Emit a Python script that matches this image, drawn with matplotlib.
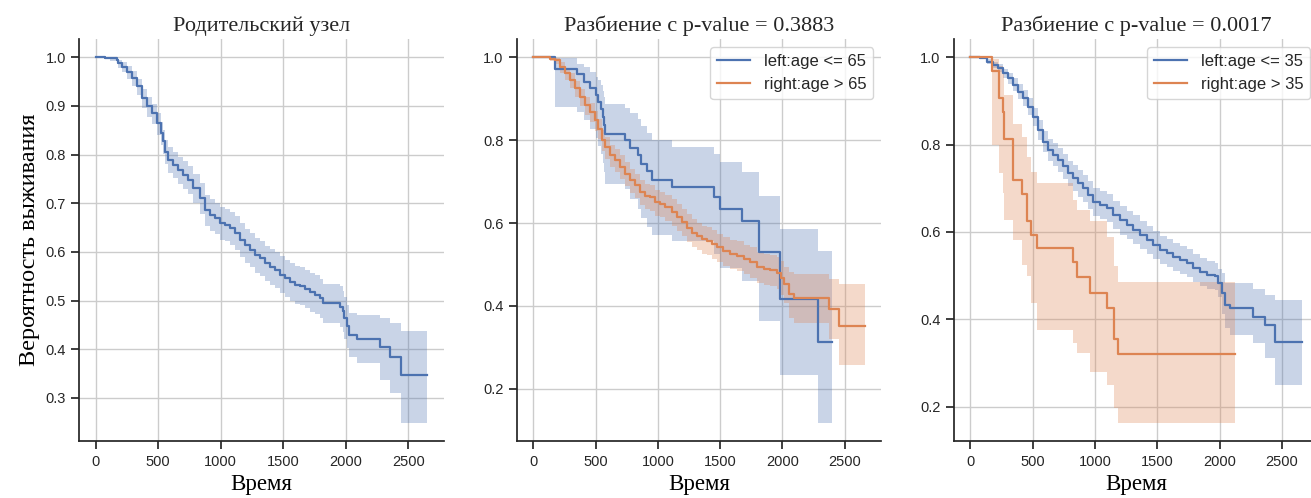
import numpy as np
import matplotlib
matplotlib.use("Agg")
from matplotlib import pyplot as plt

# --- данные (кривые Каплана-Мейера) ---
# панель 1: родительский узел
t_all = [0, 74, 114, 168, 181, 208, 248, 288, 328, 368, 408, 448, 488, 522, 541, 554, 581, 621,
         661, 701, 741, 781, 834, 874, 914, 954, 994, 1034, 1074, 1114, 1154, 1194, 1234, 1274,
         1314, 1354, 1394, 1434, 1474, 1514, 1554, 1594, 1634, 1674, 1714, 1754, 1794, 1821, 1954,
         1976, 1989, 2008, 2029, 2088, 2274, 2354, 2442, 2648]
s_all = [1.0, 0.999, 0.998, 0.994, 0.988, 0.981, 0.970, 0.957, 0.940, 0.916, 0.899, 0.885, 0.864,
         0.845, 0.827, 0.806, 0.789, 0.779, 0.769, 0.758, 0.748, 0.731, 0.710, 0.686, 0.676, 0.669,
         0.659, 0.656, 0.649, 0.639, 0.625, 0.614, 0.604, 0.594, 0.587, 0.577, 0.570, 0.563, 0.553,
         0.546, 0.539, 0.532, 0.529, 0.524, 0.517, 0.512, 0.505, 0.495, 0.487, 0.478, 0.464, 0.447,
         0.430, 0.421, 0.405, 0.383, 0.346, 0.346]
lo_all = [1.0, 0.996, 0.993, 0.986, 0.979, 0.970, 0.956, 0.941, 0.922, 0.896, 0.878, 0.863, 0.840,
          0.820, 0.801, 0.780, 0.762, 0.751, 0.740, 0.729, 0.718, 0.700, 0.678, 0.654, 0.643, 0.636,
          0.625, 0.622, 0.614, 0.604, 0.590, 0.578, 0.568, 0.557, 0.550, 0.540, 0.532, 0.525, 0.515,
          0.507, 0.500, 0.493, 0.490, 0.484, 0.477, 0.472, 0.464, 0.454, 0.446, 0.436, 0.421, 0.402,
          0.385, 0.372, 0.337, 0.310, 0.248, 0.248]
hi_all = [1.0, 1.0, 1.0, 0.999, 0.995, 0.990, 0.982, 0.971, 0.956, 0.934, 0.918, 0.905, 0.886,
          0.868, 0.851, 0.831, 0.815, 0.806, 0.796, 0.786, 0.777, 0.761, 0.741, 0.717, 0.708, 0.701,
          0.692, 0.689, 0.683, 0.673, 0.659, 0.648, 0.639, 0.629, 0.622, 0.613, 0.607, 0.600, 0.591,
          0.584, 0.577, 0.571, 0.568, 0.563, 0.557, 0.552, 0.545, 0.535, 0.529, 0.520, 0.507, 0.490,
          0.474, 0.470, 0.465, 0.454, 0.438, 0.438]

# панель 2: age <= 65 / age > 65
t_l65 = [0, 174, 354, 407, 456, 504, 523, 544, 563, 570, 576, 737, 777, 844, 863, 911, 951, 1112,
         1447, 1501, 1675, 1809, 1977, 2286, 2398]
s_l65 = [1.0, 0.972, 0.959, 0.941, 0.925, 0.909, 0.893, 0.876, 0.856, 0.836, 0.814, 0.800, 0.782,
         0.763, 0.743, 0.725, 0.704, 0.686, 0.662, 0.634, 0.606, 0.529, 0.417, 0.312, 0.312]
lo_l65 = [1.0, 0.880, 0.868, 0.848, 0.826, 0.805, 0.787, 0.767, 0.745, 0.722, 0.695, 0.682, 0.658,
          0.633, 0.612, 0.590, 0.570, 0.557, 0.525, 0.492, 0.460, 0.363, 0.234, 0.117, 0.117]
hi_l65 = [1.0, 0.998, 0.985, 0.976, 0.964, 0.953, 0.945, 0.932, 0.918, 0.905, 0.888, 0.877, 0.866,
          0.851, 0.835, 0.818, 0.800, 0.783, 0.767, 0.747, 0.723, 0.666, 0.585, 0.533, 0.533]

t_r65 = [0, 134, 174, 214, 255, 295, 335, 375, 415, 456, 496, 523, 549, 576, 616, 656, 697, 737,
         777, 817, 857, 898, 938, 978, 1018, 1058, 1112, 1152, 1192, 1233, 1273, 1313, 1353, 1393,
         1434, 1474, 1527, 1581, 1634, 1688, 1742, 1795, 1849, 1902, 1956, 1988, 2010, 2050, 2090,
         2371, 2452, 2661]
s_r65 = [1.0, 0.997, 0.994, 0.977, 0.961, 0.945, 0.925, 0.905, 0.884, 0.868, 0.848, 0.828, 0.800,
         0.783, 0.763, 0.751, 0.735, 0.719, 0.703, 0.691, 0.674, 0.666, 0.662, 0.650, 0.646, 0.638,
         0.626, 0.614, 0.602, 0.589, 0.577, 0.569, 0.561, 0.557, 0.549, 0.541, 0.533, 0.525, 0.521,
         0.513, 0.505, 0.493, 0.488, 0.486, 0.480, 0.468, 0.452, 0.428, 0.420, 0.392, 0.351, 0.351]
lo_r65 = [1.0, 0.990, 0.984, 0.963, 0.944, 0.926, 0.904, 0.883, 0.861, 0.844, 0.823, 0.802, 0.773,
          0.755, 0.735, 0.722, 0.706, 0.689, 0.673, 0.660, 0.643, 0.634, 0.630, 0.618, 0.614, 0.605,
          0.593, 0.580, 0.568, 0.555, 0.543, 0.535, 0.526, 0.522, 0.514, 0.506, 0.497, 0.489, 0.484,
          0.476, 0.468, 0.455, 0.450, 0.447, 0.440, 0.426, 0.408, 0.370, 0.359, 0.319, 0.258, 0.258]
hi_r65 = [1.0, 1.0, 0.999, 0.988, 0.974, 0.961, 0.943, 0.924, 0.904, 0.889, 0.870, 0.851, 0.824,
          0.808, 0.789, 0.778, 0.763, 0.747, 0.731, 0.719, 0.703, 0.695, 0.691, 0.680, 0.676, 0.668,
          0.657, 0.645, 0.634, 0.621, 0.609, 0.601, 0.593, 0.590, 0.582, 0.574, 0.567, 0.559, 0.556,
          0.548, 0.541, 0.530, 0.525, 0.523, 0.518, 0.508, 0.494, 0.482, 0.476, 0.464, 0.452, 0.452]

# панель 3: age <= 35 / age > 35
t_l35 = [0, 78, 132, 185, 225, 265, 305, 345, 385, 425, 465, 506, 546, 586, 626, 666, 706, 746,
         787, 827, 867, 907, 947, 987, 1041, 1095, 1148, 1201, 1255, 1308, 1362, 1416, 1469, 1523,
         1576, 1629, 1683, 1737, 1790, 1844, 1897, 1964, 1990, 2017, 2044, 2084, 2271, 2365, 2445,
         2659]
s_l35 = [1.0, 0.998, 0.990, 0.982, 0.975, 0.963, 0.952, 0.937, 0.921, 0.906, 0.887, 0.864, 0.834,
         0.807, 0.788, 0.777, 0.765, 0.750, 0.734, 0.723, 0.711, 0.700, 0.684, 0.669, 0.662, 0.654,
         0.639, 0.627, 0.616, 0.605, 0.594, 0.582, 0.571, 0.559, 0.551, 0.543, 0.536, 0.528, 0.517,
         0.509, 0.501, 0.498, 0.482, 0.460, 0.433, 0.425, 0.406, 0.387, 0.349, 0.349]
lo_l35 = [1.0, 0.995, 0.985, 0.975, 0.966, 0.952, 0.939, 0.922, 0.904, 0.888, 0.867, 0.843, 0.811,
          0.783, 0.763, 0.751, 0.738, 0.722, 0.705, 0.693, 0.680, 0.669, 0.652, 0.637, 0.630, 0.622,
          0.606, 0.594, 0.583, 0.572, 0.562, 0.550, 0.539, 0.527, 0.519, 0.511, 0.504, 0.496, 0.485,
          0.477, 0.469, 0.466, 0.450, 0.412, 0.380, 0.364, 0.345, 0.311, 0.250, 0.250]
hi_l35 = [1.0, 1.0, 0.995, 0.989, 0.984, 0.974, 0.965, 0.952, 0.938, 0.924, 0.907, 0.885, 0.857,
          0.831, 0.813, 0.803, 0.792, 0.778, 0.763, 0.753, 0.742, 0.731, 0.716, 0.701, 0.694, 0.686,
          0.672, 0.660, 0.649, 0.638, 0.626, 0.614, 0.603, 0.591, 0.583, 0.575, 0.568, 0.560, 0.549,
          0.541, 0.533, 0.530, 0.515, 0.507, 0.484, 0.482, 0.470, 0.455, 0.444, 0.444]

t_r35 = [0, 171, 233, 265, 273, 345, 412, 452, 484, 532, 821, 853, 960, 1094, 1153, 1188, 2124]
s_r35 = [1.0, 0.969, 0.906, 0.875, 0.813, 0.719, 0.688, 0.625, 0.594, 0.563, 0.532, 0.496, 0.461,
         0.425, 0.354, 0.321, 0.321]
lo_r35 = [1.0, 0.799, 0.734, 0.690, 0.627, 0.582, 0.524, 0.498, 0.437, 0.376, 0.345, 0.322, 0.280,
          0.250, 0.196, 0.162, 0.162]
hi_r35 = [1.0, 0.996, 0.980, 0.962, 0.914, 0.847, 0.817, 0.772, 0.738, 0.711, 0.673, 0.650, 0.624,
          0.589, 0.521, 0.486, 0.486]

titles = ["Родительский узел", "Разбиение с p-value = 0.3883", "Разбиение с p-value = 0.0017"]

BLUE = "#4C72B0"
ORANGE = "#DD8452"

plt.rcParams["font.family"] = ["Liberation Sans", "DejaVu Sans"]
plt.rcParams["text.color"] = "#262626"
plt.rcParams["axes.edgecolor"] = "#262626"
plt.rcParams["xtick.color"] = "#262626"
plt.rcParams["ytick.color"] = "#262626"
plt.rcParams["xtick.labelsize"] = 10.5
plt.rcParams["ytick.labelsize"] = 10.5
plt.rcParams["xtick.major.size"] = 6
plt.rcParams["ytick.major.size"] = 6
plt.rcParams["axes.linewidth"] = 1.25
plt.rcParams["xtick.major.width"] = 1.25
plt.rcParams["ytick.major.width"] = 1.25

serif = "Liberation Serif"

fig = plt.figure(figsize=(13.11, 4.98), dpi=100)
lefts = [0.0603, 0.3942, 0.7275]
axes = [fig.add_axes([l, 0.1135, 0.2780, 0.8082]) for l in lefts]


def km(ax, t, s, lo, hi, color, label=None):
    ax.fill_between(t, lo, hi, step="post", color=color, alpha=0.3, linewidth=0)
    ax.plot(t, s, drawstyle="steps-post", color=color, linewidth=1.6, label=label)


km(axes[0], t_all, s_all, lo_all, hi_all, BLUE)
km(axes[1], t_l65, s_l65, lo_l65, hi_l65, BLUE, "left:age <= 65")
km(axes[1], t_r65, s_r65, lo_r65, hi_r65, ORANGE, "right:age > 65")
km(axes[2], t_l35, s_l35, lo_l35, hi_l35, BLUE, "left:age <= 35")
km(axes[2], t_r35, s_r35, lo_r35, hi_r35, ORANGE, "right:age > 35")

for ax, title in zip(axes, titles):
    ax.grid(True, color="#cccccc", linewidth=1)
    ax.set_axisbelow(True)
    ax.spines["top"].set_visible(False)
    ax.spines["right"].set_visible(False)
    ax.set_xticks([0, 500, 1000, 1500, 2000, 2500])
    ax.set_title(title, family=serif, fontsize=16)
    ax.set_xlabel("Время", family=serif, fontsize=16.5)

axes[0].set_yticks([0.3, 0.4, 0.5, 0.6, 0.7, 0.8, 0.9, 1.0])
axes[0].set_ylabel("Вероятность выживания", family=serif, fontsize=17.5)
for ax in axes[1:]:
    ax.set_yticks([0.2, 0.4, 0.6, 0.8, 1.0])
    ax.legend(loc="upper right", fontsize=12)

fig.savefig("out.png", dpi=100)
